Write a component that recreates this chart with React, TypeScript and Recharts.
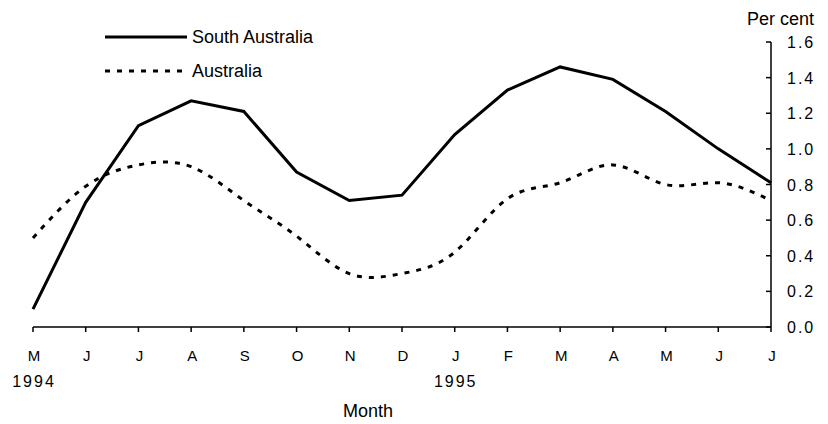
import { LineChart, Line, XAxis, YAxis } from 'recharts'

const monthKeys = ['1994-05', '1994-06', '1994-07', '1994-08', '1994-09', '1994-10', '1994-11', '1994-12', '1995-01', '1995-02', '1995-03', '1995-04', '1995-05', '1995-06', '1995-07']
const monthLabels = ['M', 'J', 'J', 'A', 'S', 'O', 'N', 'D', 'J', 'F', 'M', 'A', 'M', 'J', 'J']
const yearLabels: Record<string, string> = { '1994-05': '1994', '1995-01': '1995' }
const southAustralia = [0.1, 0.7, 1.13, 1.27, 1.21, 0.87, 0.71, 0.74, 1.08, 1.33, 1.46, 1.39, 1.21, 1.0, 0.81]
const australia = [0.5, 0.79, 0.91, 0.9, 0.71, 0.51, 0.3, 0.3, 0.42, 0.72, 0.81, 0.91, 0.8, 0.81, 0.71]
const yTicks = [0, 0.2, 0.4, 0.6, 0.8, 1.0, 1.2, 1.4, 1.6]

const data = monthKeys.map((key, i) => ({
  key,
  label: monthLabels[i],
  sa: southAustralia[i],
  aus: australia[i],
}))

const FONT = '"Liberation Sans", Arial, sans-serif'

function MonthTick(props: any) {
  const { x, y, payload } = props
  const i = monthKeys.indexOf(payload.value)
  const year = yearLabels[payload.value]
  return (
    <g>
      <text x={x + 1} y={y} dy={27} textAnchor="middle" fontSize={15} fontFamily={FONT} fill="#000">
        {monthLabels[i]}
      </text>
      {year && (
        <text x={x + 1} y={y} dy={53} textAnchor="middle" fontSize={16} letterSpacing={2} fontFamily={FONT} fill="#000">
          {year}
        </text>
      )}
    </g>
  )
}

function PctTick(props: any) {
  const { x, y, payload } = props
  const axisX = x - 10
  return (
    <g>
      <line x1={axisX - 5} x2={axisX} y1={y} y2={y} stroke="#000" strokeWidth={1.5} />
      <text x={x + 6} y={y} dy={6} textAnchor="start" fontSize={16} letterSpacing={2} fontFamily={FONT} fill="#000">
        {payload.value.toFixed(1)}
      </text>
    </g>
  )
}

export default function App() {
  return (
    <div style={{ position: 'absolute', left: 0, top: 0, width: 828, height: 424, background: '#fff', fontFamily: FONT }}>
      <LineChart width={828} height={424} data={data} margin={{ top: 42, right: 0, bottom: 0, left: 33 }}>
        <XAxis
          dataKey="key"
          height={97}
          interval={0}
          tickSize={5}
          tickMargin={2}
          axisLine={{ stroke: '#000', strokeWidth: 1.5 }}
          tickLine={{ stroke: '#000', strokeWidth: 1.5 }}
          tick={<MonthTick />}
        />
        <YAxis
          orientation="right"
          width={57}
          domain={[0, 1.6]}
          ticks={yTicks}
          interval={0}
          tickSize={5}
          tickMargin={5}
          axisLine={{ stroke: '#000', strokeWidth: 1.5 }}
          tickLine={false}
          tick={<PctTick />}
        />
        <Line dataKey="sa" type="linear" stroke="#000" strokeWidth={3} dot={false} isAnimationActive={false} />
        <Line dataKey="aus" type="natural" stroke="#000" strokeWidth={3} strokeDasharray="5 7" dot={false} isAnimationActive={false} />
      </LineChart>
      <div style={{ position: 'absolute', left: 105, top: 26, fontSize: 18, lineHeight: '22px' }}>
        <div style={{ display: 'flex', alignItems: 'center', height: 22 }}>
          <svg width={82} height={6}><line x1={0} x2={82} y1={3} y2={3} stroke="#000" strokeWidth={3} /></svg>
          <span style={{ marginLeft: 5 }}>South Australia</span>
        </div>
        <div style={{ display: 'flex', alignItems: 'center', height: 22, marginTop: 12 }}>
          <svg width={82} height={6}><line x1={0} x2={82} y1={3} y2={3} stroke="#000" strokeWidth={3} strokeDasharray="5 7" /></svg>
          <span style={{ marginLeft: 5 }}>Australia</span>
        </div>
      </div>
      <div style={{ position: 'absolute', left: 747, top: 9, fontSize: 18 }}>Per cent</div>
      <div style={{ position: 'absolute', left: 343, top: 401, fontSize: 18 }}>Month</div>
    </div>
  )
}
